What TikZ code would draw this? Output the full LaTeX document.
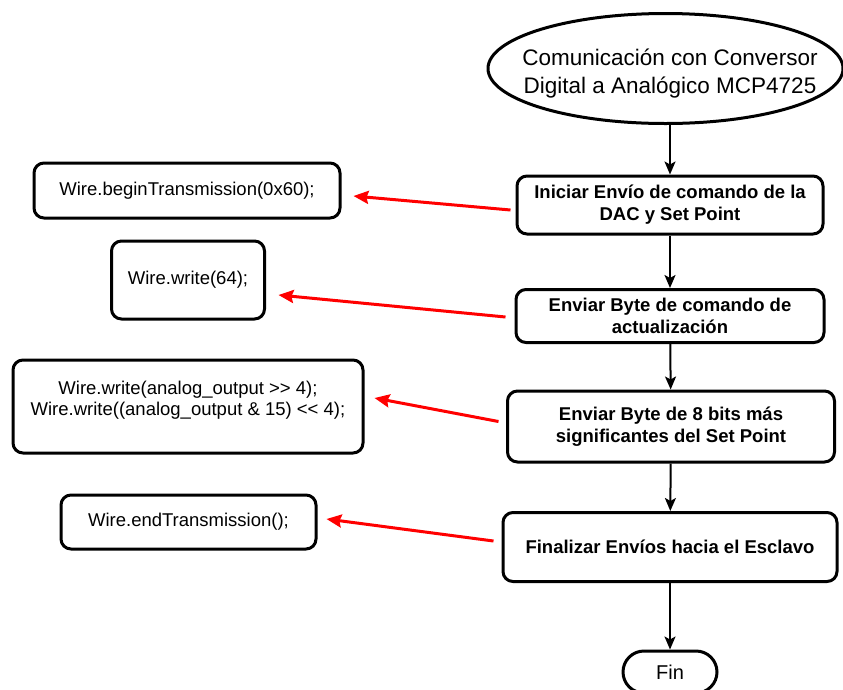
\documentclass[tikz,border=0pt]{standalone}
\usepackage{fontspec}
\setmainfont{Liberation Sans}
\usetikzlibrary{arrows.meta,shapes.geometric,shapes.misc}
\begin{document}
\begin{tikzpicture}[x=1pt,y=-1pt,
  stepbox/.style={draw,line width=3pt,rounded corners=10pt,align=center,inner sep=0pt,
    font=\fontsize{18.5}{22}\selectfont\bfseries},
  codebox/.style={draw,line width=3pt,rounded corners=10pt,align=center,inner sep=0pt,
    font=\fontsize{18.5}{20.5}\selectfont},
  flow/.style={line width=2pt,-{Stealth[length=13pt,width=11pt,inset=3pt]}},
  link/.style={line width=3pt,red,-{Stealth[length=15pt,width=13pt,inset=2pt]}}]
\useasboundingbox (0,0) rectangle (843,689);

\node[ellipse,draw,line width=3pt,minimum width=355pt,minimum height=110pt,inner sep=0pt,
  font=\fontsize{22.5}{28}\selectfont] (e) at (665.5,68.5)
  {\smash{\makebox[0pt]{\hspace{9pt}\raisebox{-11pt}{\begin{tabular}{@{}c@{}}Comunicación con Conversor\\Digital a Analógico MCP4725\end{tabular}}}}};

\node[stepbox,minimum width=306pt,minimum height=58pt] (b1) at (670,205)
  {Iniciar Envío de comando de la\\DAC y Set Point};
\node[stepbox,minimum width=308pt,minimum height=53pt] (b2) at (670,316)
  {Enviar Byte de comando de\\actualización};
\node[stepbox,minimum width=327pt,minimum height=71pt] (b3) at (671,426.5)
  {Enviar Byte de 8 bits más\\significantes del Set Point};
\node[stepbox,minimum width=334pt,minimum height=69pt] (b4) at (670,547)
  {Finalizar Envíos hacia el Esclavo};
\node[draw,line width=3pt,rounded rectangle,minimum width=94pt,minimum height=42pt,
  inner sep=0pt,font=\fontsize{20}{24}\selectfont] (fin) at (670,672) {Fin};

\node[codebox,minimum width=306pt,minimum height=55pt] (c1) at (187,190.5)
  {Wire.beginTransmission(0x60);};
\node[codebox,minimum width=153pt,minimum height=78pt] (c2) at (188,280)
  {Wire.write(64);};
\node[codebox,minimum width=350pt,minimum height=93pt] (c3) at (188,406.5)
  {Wire.write(analog\_output >{}> 4);\\Wire.write((analog\_output \& 15) <{}< 4);\rule[-16pt]{0pt}{0pt}};
\node[codebox,minimum width=255pt,minimum height=54pt] (c4) at (188.5,522)
  {Wire.endTransmission();};

\draw[flow] (e.south -| b1.north) -- (b1.north);
\draw[flow] (b1) -- (b2);
\draw[flow] (b2) -- (b3);
\draw[flow] (b3) -- (b4);
\draw[flow] (b4) -- (fin);

\draw[link] ([shift={(-5,5)}]b1.west) -- ([shift={(12,5.5)}]c1.east);
\draw[link] ([shift={(-9,1)}]b2.west) -- ([shift={(12.5,15)}]c2.east);
\draw[link] ([shift={(-7.5,-5)}]b3.west) -- ([shift={(10,-8.5)}]c3.east);
\draw[link] ([shift={(-8,-6)}]b4.west) -- ([shift={(9,-3)}]c4.east);
\end{tikzpicture}
\end{document}
